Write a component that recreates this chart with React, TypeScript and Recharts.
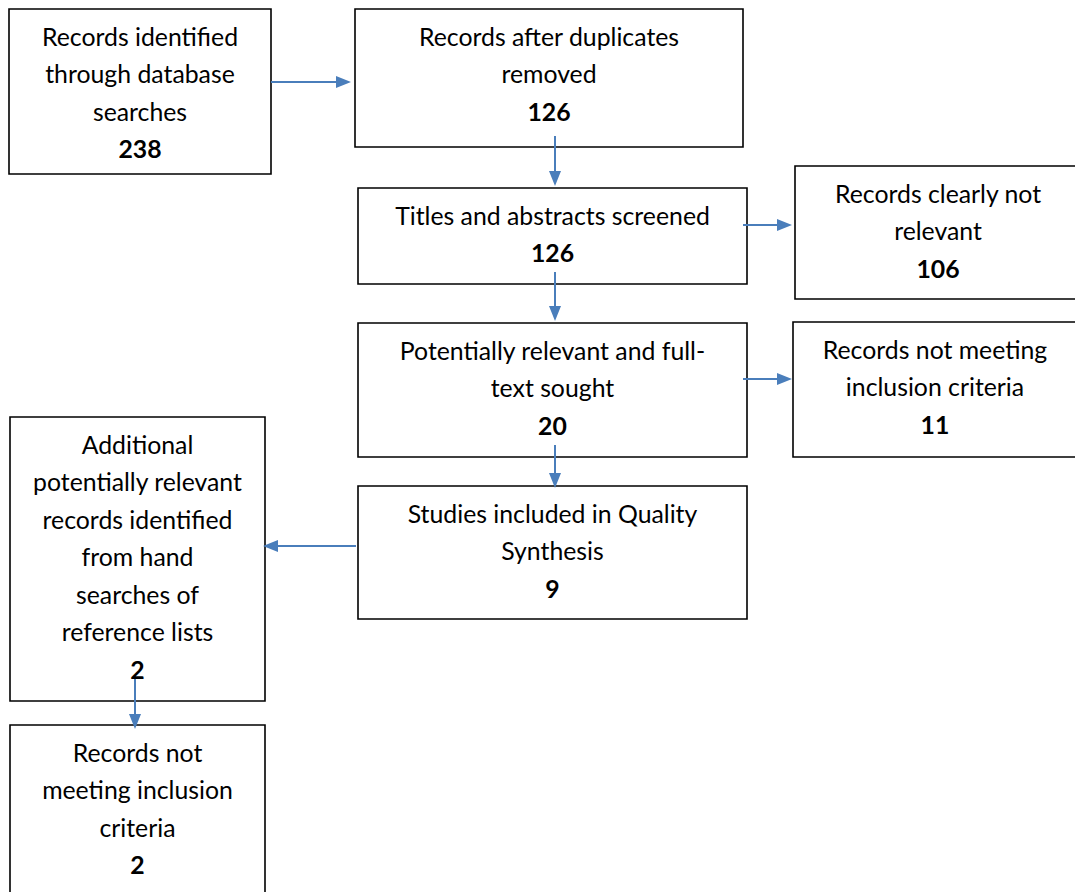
import { ComposedChart, XAxis, YAxis, ReferenceArea, ReferenceLine } from 'recharts';

// Box texts and counts, in drawing order
const boxTitles = [
  ['Records identified', 'through database', 'searches'],
  ['Records after duplicates', 'removed'],
  ['Titles and abstracts screened'],
  ['Records clearly not', 'relevant'],
  ['Potentially relevant and full-', 'text sought'],
  ['Records not meeting', 'inclusion criteria'],
  ['Studies included in Quality', 'Synthesis'],
  ['Additional', 'potentially relevant', 'records identified', 'from hand', 'searches of', 'reference lists'],
  ['Records not', 'meeting inclusion', 'criteria'],
];
const boxCounts = [238, 126, 126, 106, 20, 11, 9, 2, 2];

// Layout of the flow chart (page coordinates)
const boxRects = [
  { x1: 9, x2: 271, y1: 9, y2: 174 },
  { x1: 355, x2: 743, y1: 9, y2: 147 },
  { x1: 358, x2: 747, y1: 188, y2: 284 },
  { x1: 795, x2: 1081, y1: 166, y2: 299 },
  { x1: 358, x2: 747, y1: 323, y2: 457 },
  { x1: 793, x2: 1077, y1: 322, y2: 457 },
  { x1: 358, x2: 747, y1: 486, y2: 619 },
  { x1: 10, x2: 265, y1: 417, y2: 701 },
  { x1: 10, x2: 265, y1: 725, y2: 896 },
];
const arrows = [
  [{ x: 271, y: 82 }, { x: 351, y: 82 }],
  [{ x: 555, y: 136 }, { x: 555, y: 186 }],
  [{ x: 743, y: 225 }, { x: 792, y: 225 }],
  [{ x: 555, y: 272 }, { x: 555, y: 321 }],
  [{ x: 743, y: 379 }, { x: 792, y: 379 }],
  [{ x: 555, y: 445 }, { x: 555, y: 488 }],
  [{ x: 356, y: 546 }, { x: 263, y: 546 }],
  [{ x: 135, y: 679 }, { x: 135, y: 729 }],
];

const W = 1075;
const H = 892;
const FONT = 'Lato, sans-serif';
const ARROW = '#4a7ebb';

const renderBoxText = (lines: string[], count: number) => (props: any) => {
  const vb = props.viewBox;
  const cx = vb.x + vb.width / 2;
  const all = [...lines, String(count)];
  return (
    <g>
      {all.map((t, i) => (
        <text
          key={i}
          x={cx}
          y={vb.y + 28 + i * 37.5 + 8.5}
          textAnchor="middle"
          fontFamily={FONT}
          fontSize={24.8}
          fontWeight={i === all.length - 1 ? 700 : 400}
          fill="#000"
        >
          {t}
        </text>
      ))}
    </g>
  );
};

const renderArrow = (props: any) => {
  const { x1, y1, x2, y2 } = props;
  const dx = x2 - x1;
  const dy = y2 - y1;
  const len = Math.sqrt(dx * dx + dy * dy);
  const ux = dx / len;
  const uy = dy / len;
  const hl = 15;
  const hw = 6;
  const bx = x2 - ux * hl;
  const by = y2 - uy * hl;
  return (
    <g>
      <line x1={x1} y1={y1} x2={bx} y2={by} stroke={ARROW} strokeWidth={2} />
      <polygon
        points={`${x2},${y2} ${bx - uy * hw},${by + ux * hw} ${bx + uy * hw},${by - ux * hw}`}
        fill={ARROW}
      />
    </g>
  );
};

export default function App() {
  return (
    <div style={{ position: 'absolute', left: 0, top: 0, background: '#fff' }}>
      <ComposedChart width={W} height={H} margin={{ top: 0, right: 0, bottom: 0, left: 0 }} data={[]}>
        <XAxis type="number" dataKey="x" domain={[0, W]} hide allowDataOverflow />
        <YAxis type="number" dataKey="y" domain={[0, H]} reversed hide allowDataOverflow />
        {boxRects.map((r, i) => (
          <ReferenceArea
            key={'b' + i}
            x1={r.x1}
            x2={r.x2}
            y1={r.y1}
            y2={r.y2}
            fill="#fff"
            fillOpacity={1}
            stroke="#000"
            strokeWidth={1.6}
            ifOverflow="visible"
            label={{ content: renderBoxText(boxTitles[i], boxCounts[i]) }}
          />
        ))}
        {arrows.map((a, i) => (
          <ReferenceLine
            key={'a' + i}
            segment={a}
            ifOverflow="visible"
            shape={renderArrow}
          />
        ))}
      </ComposedChart>
    </div>
  );
}
